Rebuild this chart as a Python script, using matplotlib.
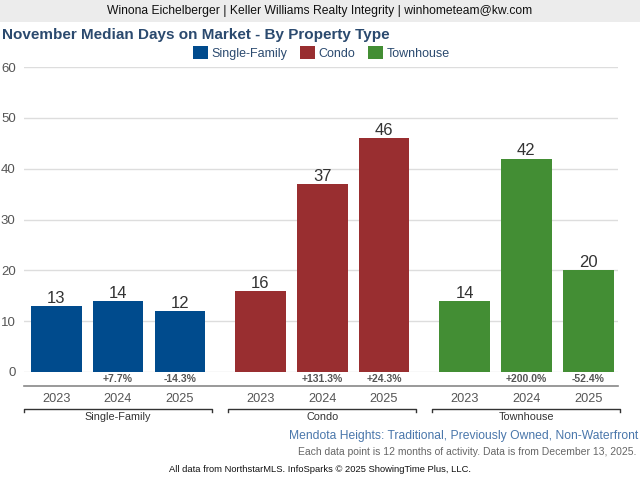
import matplotlib
matplotlib.use('Agg')
import matplotlib.pyplot as plt
import matplotlib.transforms as mtransforms
from matplotlib.patches import Patch, Rectangle
import numpy as np

plt.rcParams['font.family'] = ['Liberation Sans', 'DejaVu Sans']

groups = ['Single-Family', 'Condo', 'Townhouse']
years = ['2023', '2024', '2025']
colors = ['#004b8d', '#992e30', '#438e34']
values = [[13, 14, 12],
          [16, 37, 46],
          [14, 42, 20]]
changes = [['', '+7.7%', '-14.3%'],
           ['', '+131.3%', '+24.3%'],
           ['', '+200.0%', '-52.4%']]

H = 480.0
def fy(px):
    # pixel row (from top) -> figure fraction
    return 1 - px / H

fig = plt.figure(figsize=(6.4, 4.8), dpi=100)
ax = fig.add_axes([24 / 640, fy(372), 594 / 640, (372 - 67) / H])

gap = 3.3
for g in range(3):
    xs = np.arange(3) + g * gap
    ax.bar(xs, values[g], width=0.82, color=colors[g], zorder=3)
    for x, v in zip(xs, values[g]):
        ax.text(x, v + 0.6, str(v), ha='center', va='baseline', fontsize=12, color='#333333', zorder=4)

ax.set_ylim(0, 60)
ax.set_xlim(-0.52, 2 + 2 * gap + 0.48)
ax.set_yticks(range(0, 61, 10))
ax.yaxis.grid(True, color='#dddddd', linewidth=1)
ax.set_axisbelow(True)
ax.tick_params(axis='y', length=0, pad=6, labelsize=9.5, labelcolor='#555555')
ax.set_xticks([])
for s in ax.spines.values():
    s.set_visible(False)

# stuff below the plot
trans = mtransforms.blended_transform_factory(ax.transData, fig.transFigure)
x0, x1 = ax.get_xlim()
ax.plot([x0, x1], [fy(386), fy(386)], transform=trans, color='#888888', linewidth=1.2, clip_on=False)
for g in range(3):
    xs = np.arange(3) + g * gap
    for i, x in enumerate(xs):
        ax.text(x, fy(379), changes[g][i], transform=trans, ha='center', va='center',
                fontsize=7.5, fontweight='bold', color='#555555')
        ax.text(x, fy(399), years[i], transform=trans, ha='center', va='center',
                fontsize=9.2, color='#555555')
    bl, br = xs[0] - 0.52, xs[-1] + 0.52
    ax.plot([bl, bl, br, br], [fy(412), fy(409), fy(409), fy(412)], transform=trans,
            color='#333333', linewidth=1, clip_on=False)
    ax.text(xs[1], fy(417.5), groups[g], transform=trans, ha='center', va='center',
            fontsize=7.8, color='#333333')

# header band
fig.patches.append(Rectangle((0, fy(22)), 1, 22 / H, transform=fig.transFigure,
                             facecolor='#ececec', edgecolor='none', zorder=0))
fig.text(0.5, fy(11), 'Winona Eichelberger | Keller Williams Realty Integrity | winhometeam@kw.com',
         ha='center', va='center', fontsize=8.75, color='#111111')
fig.text(2 / 640, fy(34.5), 'November Median Days on Market - By Property Type', ha='left', va='center',
         fontsize=11, fontweight='bold', color='#2b4a6f')

handles = [Patch(facecolor=c, edgecolor='none', label=n) for c, n in zip(colors, groups)]
leg = fig.legend(handles=handles, loc='center', bbox_to_anchor=(321 / 640, fy(53)), ncol=3, frameon=False,
                 fontsize=9, handlelength=1.2, handleheight=1.2, handletextpad=0.3, columnspacing=1.0)
for t in leg.get_texts():
    t.set_color('#2b4a6f')

fig.text(638 / 640, fy(436), 'Mendota Heights: Traditional, Previously Owned, Non-Waterfront',
         ha='right', va='center', fontsize=8.7, color='#4a77ab')
fig.text(636 / 640, fy(452), 'Each data point is 12 months of activity. Data is from December 13, 2025.',
         ha='right', va='center', fontsize=7.5, color='#666666')
fig.text(320 / 640, fy(469), 'All data from NorthstarMLS. InfoSparks \u00a9 2025 ShowingTime Plus, LLC.',
         ha='center', va='center', fontsize=6.75, color='#111111')

fig.savefig('out.png', dpi=100)
